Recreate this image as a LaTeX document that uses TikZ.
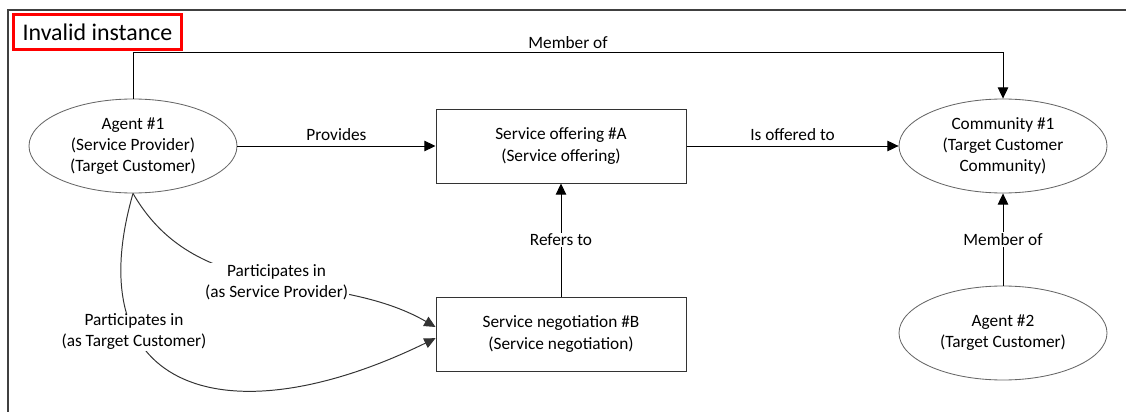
\documentclass[tikz,border=0pt]{standalone}
\usepackage{fontspec}
\setmainfont{Carlito}
\usetikzlibrary{shapes,arrows.meta}

\begin{document}
\begin{tikzpicture}[font=\fontsize{12.3}{15}\selectfont]
  \tikzstyle{agent}=[ellipse,draw=black!60,line width=0.6pt,minimum width=5.2cm,minimum height=2.35cm,inner sep=0pt,align=center]
  \tikzstyle{thing}=[rectangle,draw=black!80,line width=0.7pt,minimum width=6.25cm,minimum height=1.85cm,align=center]
  \tikzstyle{link}=[line width=0.7pt,-{Triangle[length=8pt,width=7.5pt]}]
  \tikzstyle{lbl}=[fill=white,inner sep=1pt,align=center]
  \useasboundingbox (-3.325,3.65) rectangle (24.825,-6.625);
  \draw (0,0) node (c){};

  % frame and heading
  \draw[line width=2pt,black!75] (c)++(-3.125,-7) -- ++(0,10.4) -- ++(28.5,0);
  \draw (c)++(-0.8875,2.85) node[draw=red,line width=2pt,minimum width=4.2cm,minimum height=0.88cm,font=\fontsize{17}{20}\selectfont] (title){Invalid instance};

  \draw (c) node[agent] (A1){Agent \#1\\(Service Provider)\\(Target Customer)};
  \draw (c)++(10.7,0) node[thing] (SO){Service offering \#A\\(Service offering)};
  \draw (c)++(21.75,0) node[agent] (CM){Community \#1\\(Target Customer\\Community)};

  \draw (c)++(10.7,-4.7) node[thing] (SN){Service negotiation \#B\\(Service negotiation)};
  \draw (c)++(21.75,-4.675) node[agent] (A2){Agent \#2\\(Target Customer)};

  \draw (c)++(0,2.35) coordinate (m1);
  \draw (c)++(21.75,2.35) coordinate (m2);

  \draw[link] (A1.north) -- (m1) -- node[above,inner sep=2pt]{Member of} (m2) -- (CM.north);
  \draw[link] (A1) -- node[above]{Provides} (SO);
  \draw[link] (SO) -- node[above]{Is offered to} (CM);
  \draw[link] (SN) -- node[lbl]{Refers to} (SO);
  \draw[link] (A2) -- node[lbl]{Member of} (CM);
  \draw[link,draw=black!80] (A1.south) .. controls +(-60:3.3) and +(150:3) .. node[lbl,pos=0.52]{Participates in\\(as Service Provider)} ([yshift=5pt]SN.west);
  \draw[link,draw=black!80] (A1.south) .. controls +(-106:5.2) and +(206:5.75) .. node[lbl,pos=0.3]{Participates in\\(as Target Customer)} ([yshift=-3pt]SN.west);
\end{tikzpicture}
\end{document}
